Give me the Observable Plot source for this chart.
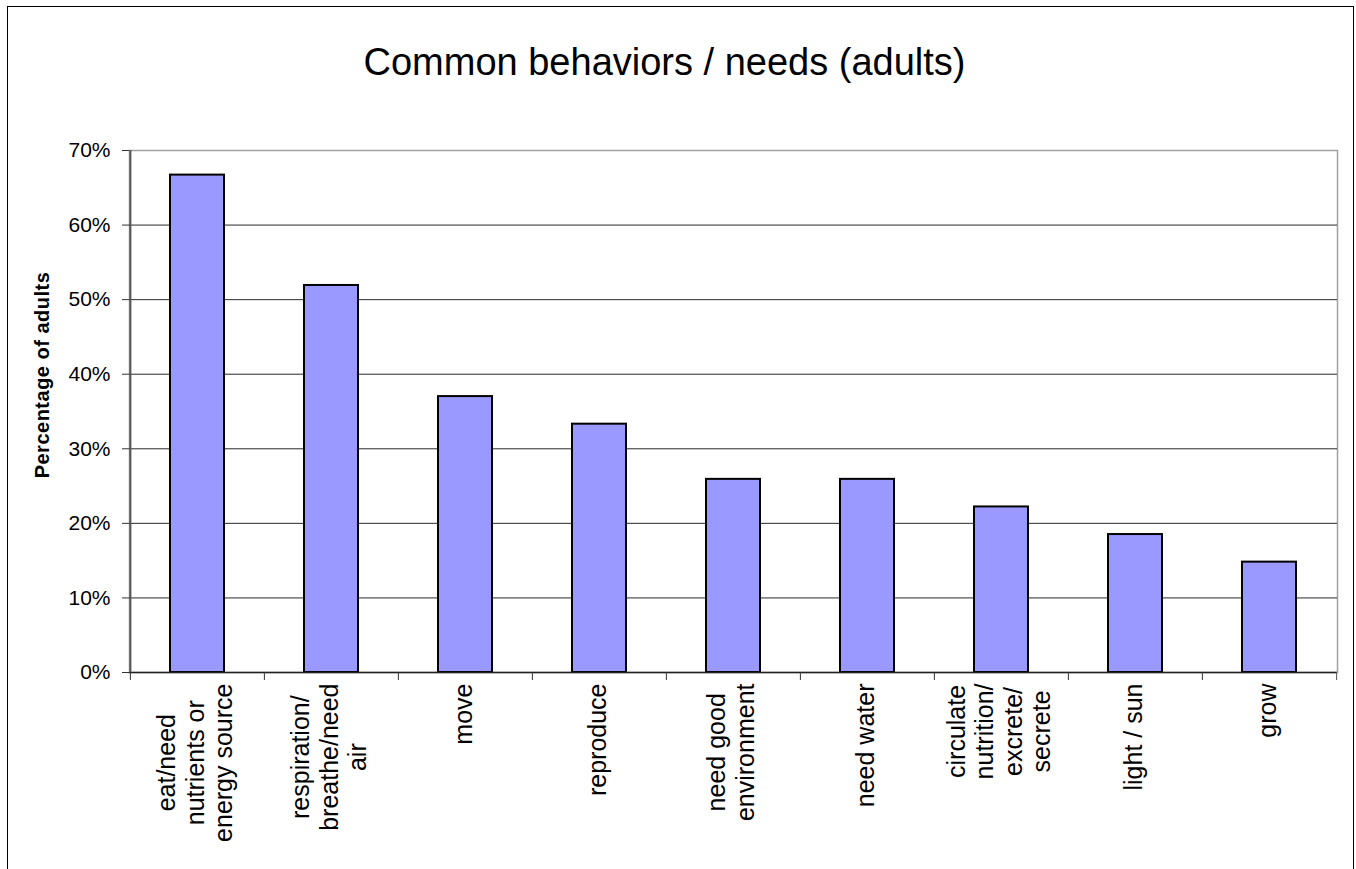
<!DOCTYPE html>
<html><head><meta charset="utf-8">
<script src="https://cdn.jsdelivr.net/npm/d3@7"></script>
<script src="https://cdn.jsdelivr.net/npm/@observablehq/plot@0.6"></script>
<style>
body{margin:0;background:#fff;font-family:"Liberation Sans",Arial,sans-serif;}
#wrap{position:relative;width:1356px;height:869px;overflow:hidden;background:#fff;}
#border{position:absolute;left:7px;top:6px;width:1347px;height:900px;border:1px solid #000;border-bottom:none;box-sizing:border-box;}
#title{position:absolute;left:0;top:43px;width:1329px;text-align:center;font-size:38px;line-height:1;color:#000;white-space:nowrap;}
#ylabel{position:absolute;left:42px;top:375px;transform:translate(-50%,-50%) rotate(-90deg);font-size:20px;letter-spacing:0.5px;font-weight:bold;white-space:nowrap;color:#000;}
#chart{position:absolute;left:0;top:0;}
</style>
</head><body>
<div id="wrap">
  <div id="border"></div>
  <div id="chart"></div>
  <div id="title">Common behaviors / needs (adults)</div>
  <div id="ylabel">Percentage of adults</div>
</div>
<script>
const categories = [
  "eat/need\nnutrients or\nenergy source",
  "respiration/\nbreathe/need\nair",
  "move",
  "reproduce",
  "need good\nenvironment",
  "need water",
  "circulate\nnutrition/\nexcrete/\nsecrete",
  "light / sun",
  "grow"
];
const values = [0.667, 0.519, 0.370, 0.333, 0.259, 0.259, 0.222, 0.185, 0.148];
const yTicks = [0, 0.1, 0.2, 0.3, 0.4, 0.5, 0.6, 0.7];
const gridTicks = [0.1, 0.2, 0.3, 0.4, 0.5, 0.6];

const data = categories.map((c, i) => ({category: c, value: values[i]}));

const W = 1356, H = 869, mL = 129, mR = 19, mT = 150, mB = 197;
const innerW = W - mL - mR, innerH = H - mT - mB;
const step = innerW / 9;
const labelFont = 25;
const fontFamily = "Liberation Sans, Arial, sans-serif";

const ctx = document.createElement("canvas").getContext("2d");
ctx.font = `${labelFont}px ${fontFamily}`;
const measure = s => ctx.measureText(s).width;

const labelMarks = categories.map(c => {
  const maxW = d3.max(c.split("\n"), measure);
  return Plot.text([c], {
    x: d => d, text: d => d, frameAnchor: "bottom",
    rotate: -90, textAnchor: "middle", lineAnchor: "middle", lineHeight: 1.14,
    dy: 11 + maxW / 2, dx: -3, fontSize: labelFont, fill: "#000"
  });
});

const chart = Plot.plot({
  width: W, height: H,
  marginLeft: mL, marginRight: mR, marginTop: mT, marginBottom: mB,
  style: {fontFamily, fontSize: "21px", background: "transparent", color: "#000"},
  x: {type: "band", domain: categories, paddingInner: 0.6, paddingOuter: 0.3, axis: null},
  y: {domain: [0, 0.7], axis: null},
  marks: [
    Plot.frame({stroke: "#a0a0a0", strokeWidth: 1.5}),
    Plot.gridY(gridTicks, {stroke: "#2a2a2a", strokeOpacity: 1, strokeWidth: 1}),
    Plot.barY(data, {x: "category", y: "value", fill: "#9999ff", stroke: "#000", strokeWidth: 2}),
    Plot.ruleY([0], {stroke: "#222", strokeWidth: 1.5}),
    Plot.ruleX([categories[0]], {dx: -step / 2, stroke: "#555", strokeWidth: 2}),
    Plot.ruleX(categories, {x: d => d, dx: -step / 2, insetTop: innerH, insetBottom: -8, stroke: "#333"}),
    Plot.ruleX([categories[categories.length - 1]], {x: d => d, dx: step / 2, insetTop: innerH, insetBottom: -8, stroke: "#555"}),
    Plot.axisY(yTicks, {tickFormat: d => Math.round(d * 100) + "%", tickSize: 7, tickPadding: 12, fontSize: 21, label: null, stroke: "#333"}),
    ...labelMarks
  ]
});
document.getElementById("chart").appendChild(chart);
</script>
</body></html>
